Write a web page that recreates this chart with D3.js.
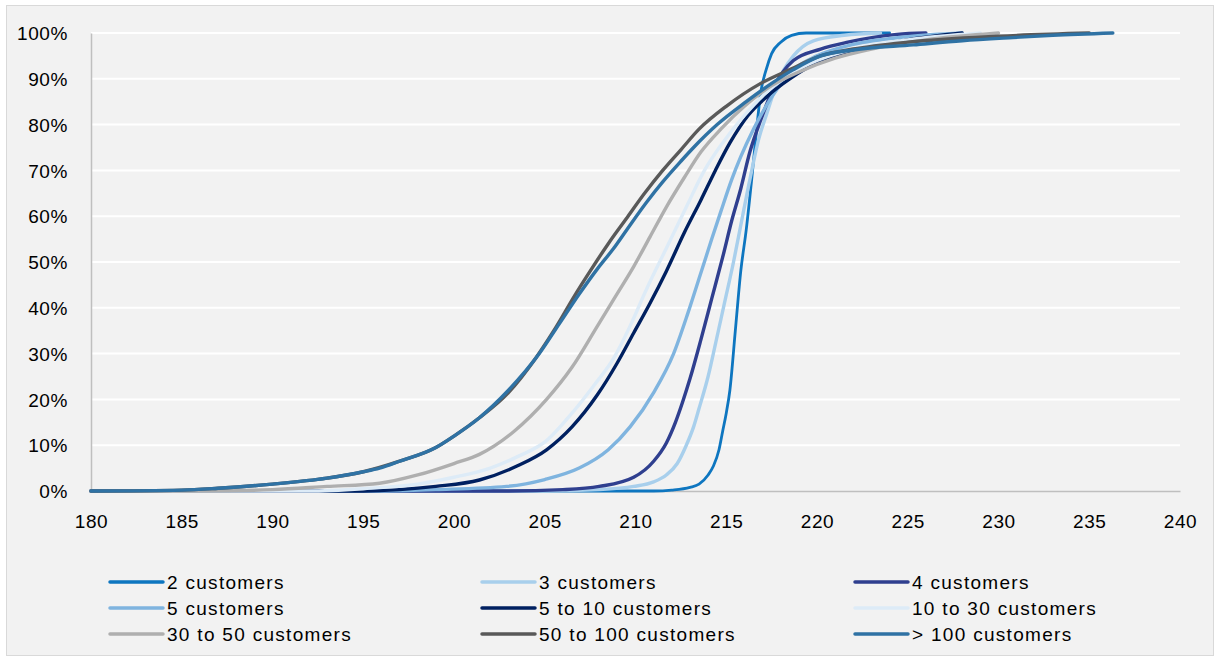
<!DOCTYPE html>
<html><head><meta charset="utf-8">
<script src="https://cdn.jsdelivr.net/npm/d3@7"></script>
<style>
html,body{margin:0;padding:0;background:#fff;}
svg text{font-family:"Liberation Sans",Arial,sans-serif;fill:#000;}
</style></head>
<body>
<svg id="chart" width="1219" height="660"></svg>
<script>
// ---- data (x = value, y = cumulative %) ----
const xTicks = [180,185,190,195,200,205,210,215,220,225,230,235,240];
const yTicks = [0,10,20,30,40,50,60,70,80,90,100];

const seriesNames = ["2 customers","3 customers","4 customers","5 customers","5 to 10 customers","10 to 30 customers","30 to 50 customers","50 to 100 customers","> 100 customers"];
const seriesColors = ["#0e76c0","#a8cfec","#2f3f8f","#7fb4df","#002060","#ddebf7","#afafaf","#595959","#2f72a4"];

const s2 = [[180,0],[211,0],[212,0.2],[213,0.8],[213.5,1.5],[214,3.5],[214.3,5.5],[214.6,9],[214.8,13],[215,17],[215.2,22],[215.5,35],[215.8,48],[216.1,57],[216.4,68],[216.7,80],[216.9,87],[217.2,92],[217.5,95.5],[218,98],[218.6,99.5],[219.4,100],[224,100]];
const s3 = [[180,0],[205,0],[208,0.3],[209.9,1],[211,2],[211.7,3.5],[212.3,6],[212.8,10],[213.2,14],[213.5,18],[214,25],[214.4,32],[214.9,41],[215.4,50],[215.8,58],[216.3,68],[216.8,77],[217.2,82],[217.8,89],[218.7,95],[219.8,98.3],[221.5,99.5],[223.5,100]];
const s4 = [[180,0],[203,0],[206,0.3],[208,1],[209.9,3],[211,6.5],[211.7,10.5],[212.2,15],[212.6,19.5],[213,24.5],[213.6,33],[214.2,42],[214.8,51],[215.3,59],[215.8,66],[216.3,74],[216.9,81],[217.6,88],[218.7,94],[220.2,96.5],[221.7,98],[224.4,99.7],[226,100]];
const s5 = [[180,0],[196,0],[199,0.3],[202.9,1],[205,2.5],[206.9,5],[208.5,9],[209.7,14],[211,21.5],[212.1,30],[212.9,39],[213.6,47.6],[214.2,55],[214.7,61],[215.3,68],[215.8,73],[216.5,79],[217.5,86],[218.7,92],[220,95],[222,97.5],[225,99.2],[228,100]];
const s5to10 = [[180,0],[195,0],[197,0.3],[199,1],[201.4,2.4],[203.5,5.5],[205.1,9],[206.5,14],[207.9,21],[209,28],[209.9,34.5],[210.8,41],[211.7,48],[212.7,56.5],[213.6,63.5],[214.4,70],[215.2,76],[216.2,82],[217.2,86],[218.5,90],[220,93.5],[222,96],[225,98.5],[228,100]];
const s10to30 = [[180,0],[192,0],[195,0.5],[198,1.5],[200,3],[202,5],[203.5,7.5],[205.1,11],[206.5,17],[207.7,23],[208.8,29],[209.7,36],[210.6,44],[211.7,53],[212.8,62],[213.8,70],[214.8,76],[216,82],[217.2,87],[218.5,91],[220,94],[222,96.5],[225,98.5],[229,100]];
const s30to50 = [[180,0],[186,0],[190,0.3],[193,1],[195.9,1.7],[198,3.5],[200,6],[201.4,8],[203.3,13],[205.1,20],[206.5,27],[207.9,36],[208.9,42.5],[209.9,49],[210.8,55.5],[211.7,62],[212.7,68.5],[213.6,74],[214.7,79],[216,84],[217.5,88.5],[219,91.5],[221,94.5],[223,96.5],[226,98.5],[230,100]];
const s50to100 = [[180,0],[185,0.2],[187,0.6],[190,1.5],[193,2.8],[195,4.2],[197,6.5],[199,9.5],[200,12],[201.4,16],[203,21.5],[204.5,29],[205.5,35],[206.7,43],[207.5,48],[208.5,54],[209.5,59.5],[210.5,65],[211.5,70],[212.5,74.5],[213.5,79],[215,84],[216.9,89],[218.5,92],[220.2,95],[222,96.5],[225,98],[230,99.3],[235,100]];
const s100 = [[180,0],[185,0.2],[187,0.6],[190,1.5],[193,2.8],[195,4.2],[195.9,5],[197,6.5],[199,9.5],[200,12],[201.4,16],[203,22],[204.7,30],[205.8,36.5],[206.9,43],[207.9,48.5],[208.8,53],[209.6,57.5],[210.6,63],[211.5,67.5],[212.5,72],[213.2,75],[214.5,80],[216.1,85],[217.5,89],[218.7,92],[220.2,95],[222,96.3],[225.3,97.4],[228,98.3],[230.8,99],[233,99.5],[236.3,100]];

const seriesData = [s2,s3,s4,s5,s5to10,s10to30,s30to50,s50to100,s100];

// ---- layout ----
const svg = d3.select("#chart");
const plot = {left:91, right:1180, top:33, bottom:491};

svg.append("rect").attr("x",6.5).attr("y",5.5).attr("width",1207).attr("height",650)
  .attr("fill","#f2f2f2").attr("stroke","#d9d9d9").attr("stroke-width",1);

const x = d3.scaleLinear().domain([180,240]).range([plot.left, plot.right]);
const y = d3.scaleLinear().domain([0,100]).range([plot.bottom, plot.top]);

// gridlines
svg.append("g").selectAll("line").data(yTicks.filter(d=>d>0)).join("line")
  .attr("x1",plot.left).attr("x2",plot.right)
  .attr("y1",d=>y(d)).attr("y2",d=>y(d))
  .attr("stroke","#ffffff").attr("stroke-width",2);

// axes
const yAxis = d3.axisLeft(y).tickValues(yTicks).tickFormat(d=>d+"%").tickSize(0).tickPadding(23);
const gy = svg.append("g").attr("transform",`translate(${plot.left},0)`).call(yAxis);
gy.select(".domain").attr("stroke","#bfbfbf").attr("stroke-width",1.5);
gy.selectAll("text").style("font-size","19px").attr("letter-spacing","0.6px").attr("dy","0.35em");

const xAxis = d3.axisBottom(x).tickValues(xTicks).tickFormat(d3.format("d")).tickSize(0).tickPadding(24);
const gx = svg.append("g").attr("transform",`translate(0,${plot.bottom})`).call(xAxis);
gx.select(".domain").attr("stroke","#bfbfbf").attr("stroke-width",1.5);
gx.selectAll("text").style("font-size","19px").attr("letter-spacing","0.6px");

// lines
const line = d3.line().x(d=>x(d[0])).y(d=>y(d[1])).curve(d3.curveMonotoneX);
svg.append("g").selectAll("path").data(seriesData).join("path")
  .attr("d",line).attr("fill","none")
  .attr("stroke",(d,i)=>seriesColors[i])
  .attr("stroke-width",(d,i)=>i===0?2.8:3.4)
  .attr("stroke-linejoin","round").attr("stroke-linecap","round");

// legend
const colX = [110,482,855];
const rowY = [582,608,634];
const lg = svg.append("g").selectAll("g").data(seriesNames).join("g")
  .attr("transform",(d,i)=>`translate(${colX[i%3]},${rowY[Math.floor(i/3)]})`);
lg.append("line").attr("x1",0).attr("x2",53).attr("y1",0).attr("y2",0)
  .attr("stroke",(d,i)=>seriesColors[i]).attr("stroke-width",3.5).attr("stroke-linecap","round");
lg.append("text").attr("x",57).attr("y",0).attr("dy","0.35em")
  .style("font-size","19px").attr("letter-spacing","1.3px").text(d=>d);
</script>
</body></html>
